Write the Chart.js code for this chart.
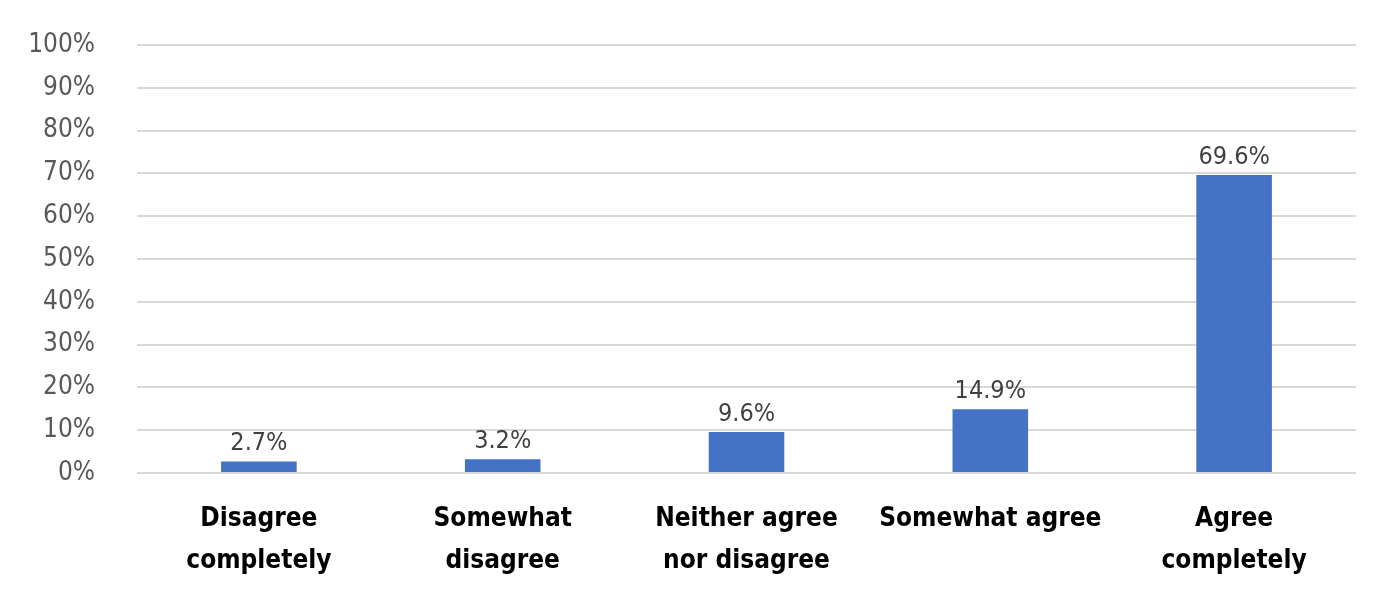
<!DOCTYPE html>
<html>
<head>
<meta charset="utf-8">
<script src="https://cdn.jsdelivr.net/npm/chart.js@4"></script>
<style>
  html, body { margin: 0; padding: 0; background: #fff; }
  #wrap { width: 1400px; height: 607px; }
</style>
</head>
<body>
<div id="wrap"><canvas id="surveyChart" width="1400" height="607"></canvas></div>
<script>
const categories = [
    ['Disagree', 'completely'],
    ['Somewhat', 'disagree'],
    ['Neither agree', 'nor disagree'],
    ['Somewhat agree'],
    ['Agree', 'completely']
];
const shares = [2.7, 3.2, 9.6, 14.9, 69.6];
const yTicks = [0, 10, 20, 30, 40, 50, 60, 70, 80, 90, 100];

const fontFamily = '"Liberation Sans Narrow", "DejaVu Sans Condensed", "Liberation Sans", sans-serif';

// Draw the value above each bar
const barLabels = {
    id: 'barLabels',
    afterDatasetsDraw(chart) {
        const ctx = chart.ctx;
        const meta = chart.getDatasetMeta(0);
        ctx.save();
        ctx.font = '25px ' + fontFamily;
        ctx.fillStyle = '#404040';
        ctx.textAlign = 'center';
        ctx.textBaseline = 'alphabetic';
        meta.data.forEach((bar, i) => {
            ctx.fillText(shares[i].toFixed(1) + '%', bar.x, bar.y - 11);
        });
        ctx.restore();
    }
};

const ctx = document.getElementById('surveyChart').getContext('2d');
new Chart(ctx, {
    type: 'bar',
    data: {
        labels: categories,
        datasets: [{
            data: shares,
            backgroundColor: '#4472C4',
            categoryPercentage: 1,
            barPercentage: 0.31
        }]
    },
    options: {
        responsive: false,
        animation: false,
        layout: { padding: { top: 45, right: 44, left: 0, bottom: 0 } },
        plugins: {
            legend: { display: false },
            tooltip: { enabled: false }
        },
        scales: {
            y: {
                min: 0,
                max: 100,
                afterFit(scale) {
                    scale.width = 137;
                    // tick padding would otherwise push the plot down
                    scale.paddingTop = 0;
                    scale.paddingBottom = 0;
                },
                afterBuildTicks(scale) { scale.ticks = yTicks.map(v => ({ value: v })); },
                border: { display: false },
                grid: { color: '#d9d9d9', lineWidth: 2, drawTicks: false },
                ticks: {
                    padding: 42,
                    color: '#595959',
                    font: { family: fontFamily, size: 26 },
                    callback: v => v + '%'
                }
            },
            x: {
                afterFit(scale) { scale.height = 134; },
                border: { display: false },
                grid: { display: false },
                ticks: {
                    padding: 17,
                    color: '#000',
                    maxRotation: 0,
                    font: { family: fontFamily, size: 26, weight: 'bold', lineHeight: 1.62 }
                }
            }
        }
    },
    plugins: [barLabels]
});
</script>
</body>
</html>
